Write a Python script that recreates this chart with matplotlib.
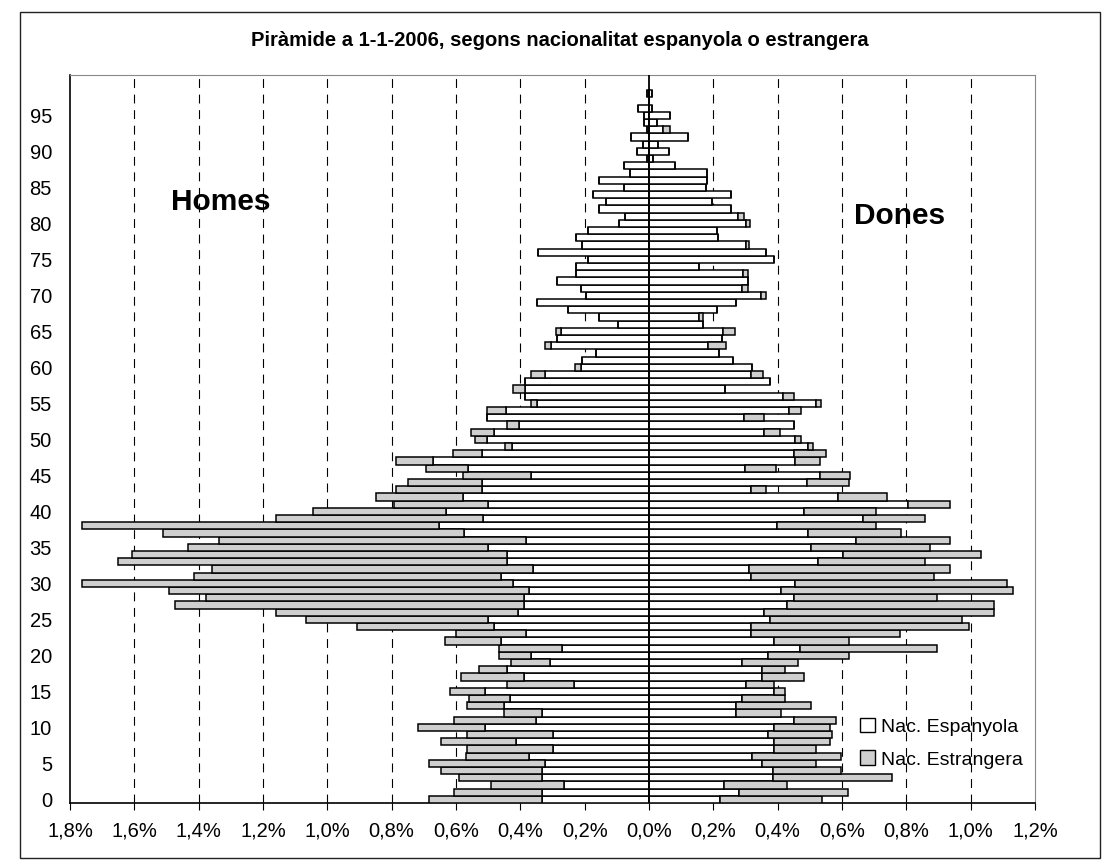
import matplotlib
matplotlib.use("Agg")
import matplotlib.pyplot as plt
from matplotlib.patches import Rectangle, Patch
import numpy as np

plt.rcParams['font.family'] = ['Liberation Sans', 'DejaVu Sans']

title = "Piràmide a 1-1-2006, segons nacionalitat espanyola o estrangera"
ages = list(range(0, 99))
ytick_vals = list(range(0, 100, 5))
xtick_vals = [-1.8, -1.6, -1.4, -1.2, -1.0, -0.8, -0.6, -0.4, -0.2, 0.0,
              0.2, 0.4, 0.6, 0.8, 1.0, 1.2]
series_names = ["Nac. Espanyola", "Nac. Estrangera"]

# Men: total and Spanish nationality (% of total population)
men_total = [0.685, 0.606, 0.491, 0.59, 0.646, 0.685, 0.57, 0.566, 0.646, 0.566,
             0.719, 0.606, 0.451, 0.566, 0.56, 0.62, 0.442, 0.586, 0.527, 0.428,
             0.467, 0.467, 0.634, 0.6, 0.907, 1.065, 1.16, 1.475, 1.376, 1.491,
             1.762, 1.416, 1.358, 1.65, 1.606, 1.432, 1.337, 1.511, 1.762, 1.16,
             1.044, 0.792, 0.848, 0.788, 0.749, 0.578, 0.693, 0.786, 0.61, 0.447,
             0.54, 0.554, 0.442, 0.504, 0.504, 0.366, 0.387, 0.424, 0.385, 0.366,
             0.229, 0.208, 0.166, 0.322, 0.287, 0.289, 0.097, 0.154, 0.251, 0.347,
             0.195, 0.212, 0.287, 0.228, 0.228, 0.19, 0.344, 0.207, 0.228, 0.19,
             0.092, 0.074, 0.154, 0.135, 0.175, 0.078, 0.154, 0.06, 0.078, 0.005,
             0.036, 0.02, 0.055, 0.005, 0.016, 0.014, 0.035, 0.0, 0.005]
men_esp = [0.333, 0.333, 0.263, 0.333, 0.333, 0.323, 0.374, 0.297, 0.412, 0.297,
           0.511, 0.352, 0.333, 0.451, 0.432, 0.511, 0.234, 0.388, 0.442, 0.309,
           0.368, 0.269, 0.461, 0.382, 0.481, 0.501, 0.408, 0.388, 0.388, 0.372,
           0.422, 0.461, 0.362, 0.442, 0.442, 0.501, 0.382, 0.574, 0.653, 0.515,
           0.63, 0.499, 0.578, 0.519, 0.519, 0.366, 0.564, 0.673, 0.52, 0.426,
           0.504, 0.483, 0.405, 0.504, 0.445, 0.348, 0.387, 0.387, 0.385, 0.324,
           0.21, 0.208, 0.166, 0.304, 0.287, 0.275, 0.097, 0.154, 0.251, 0.347,
           0.195, 0.212, 0.287, 0.228, 0.228, 0.19, 0.344, 0.207, 0.228, 0.19,
           0.092, 0.074, 0.154, 0.135, 0.175, 0.078, 0.154, 0.06, 0.078, 0.005,
           0.036, 0.02, 0.055, 0.005, 0.016, 0.014, 0.035, 0.0, 0.005]

# Women: total and Spanish nationality
women_total = [0.539, 0.618, 0.43, 0.756, 0.598, 0.519, 0.598, 0.519, 0.562, 0.568,
               0.562, 0.582, 0.41, 0.503, 0.424, 0.424, 0.39, 0.483, 0.424, 0.463,
               0.622, 0.895, 0.622, 0.78, 0.994, 0.974, 1.073, 1.073, 0.895, 1.133,
               1.113, 0.885, 0.936, 0.859, 1.033, 0.873, 0.936, 0.783, 0.706, 0.859,
               0.706, 0.936, 0.741, 0.365, 0.623, 0.624, 0.396, 0.531, 0.55, 0.509,
               0.473, 0.407, 0.452, 0.359, 0.473, 0.535, 0.452, 0.237, 0.376, 0.353,
               0.32, 0.26, 0.218, 0.239, 0.226, 0.267, 0.169, 0.169, 0.21, 0.269,
               0.364, 0.308, 0.308, 0.308, 0.156, 0.388, 0.364, 0.31, 0.215, 0.21,
               0.313, 0.295, 0.254, 0.195, 0.255, 0.177, 0.18, 0.18, 0.082, 0.012,
               0.062, 0.028, 0.122, 0.065, 0.025, 0.065, 0.01, 0.0, 0.01]
women_esp = [0.222, 0.281, 0.232, 0.384, 0.384, 0.351, 0.321, 0.39, 0.39, 0.37,
             0.39, 0.451, 0.27, 0.27, 0.289, 0.39, 0.30, 0.35, 0.35, 0.29,
             0.37, 0.469, 0.39, 0.317, 0.317, 0.376, 0.356, 0.43, 0.45, 0.41,
             0.455, 0.317, 0.311, 0.525, 0.602, 0.504, 0.643, 0.493, 0.399, 0.665,
             0.482, 0.804, 0.588, 0.316, 0.49, 0.531, 0.297, 0.455, 0.452, 0.494,
             0.455, 0.356, 0.452, 0.296, 0.434, 0.52, 0.416, 0.237, 0.376, 0.317,
             0.32, 0.26, 0.218, 0.182, 0.226, 0.231, 0.169, 0.154, 0.21, 0.269,
             0.347, 0.29, 0.308, 0.292, 0.156, 0.388, 0.364, 0.30, 0.215, 0.21,
             0.30, 0.277, 0.254, 0.195, 0.255, 0.177, 0.18, 0.18, 0.082, 0.012,
             0.062, 0.028, 0.122, 0.045, 0.025, 0.065, 0.01, 0.0, 0.01]

W, H = 1112, 868
fig = plt.figure(figsize=(W / 100, H / 100), dpi=100)
fig.patch.set_facecolor('white')

# outer frame
fig.patches.append(Rectangle((20 / W, 1 - 858 / H), (1100 - 20) / W, (858 - 12) / H,
                             transform=fig.transFigure, fill=False,
                             edgecolor='#222222', linewidth=1.0))

ax = fig.add_axes([70 / W, 1 - 803 / H, (1035 - 70) / W, (803 - 75) / H])

grey = '#cfcfcf'
m_tot = np.array(men_total)
m_esp = np.array(men_esp)
w_tot = np.array(women_total)
w_esp = np.array(women_esp)

bar_kw = dict(height=1.0, edgecolor='black', linewidth=1.1, zorder=3)
ax.barh(ages, -m_esp, color='white', **bar_kw)
ax.barh(ages, -(m_tot - m_esp), left=-m_esp, color=grey, **bar_kw)
ax.barh(ages, w_esp, color='white', **bar_kw)
ax.barh(ages, w_tot - w_esp, left=w_esp, color=grey, **bar_kw)

ax.set_xlim(-1.8, 1.2)
ax.set_ylim(-0.5, 100.6)

# dashed gridlines
for v in xtick_vals:
    if v not in (-1.8, 0.0, 1.2):
        ax.axvline(v, color='black', linestyle=(0, (8, 6)), linewidth=0.8, zorder=1)
ax.axvline(0.0, color='black', linewidth=1.3, zorder=4)

ax.set_xticks(xtick_vals)
ax.set_xticklabels([("%.1f%%" % abs(v)).replace('.', ',') for v in xtick_vals],
                   fontsize=14.5)
ax.set_yticks(ytick_vals)
ax.set_yticklabels([str(v) for v in ytick_vals], fontsize=14.5)
ax.tick_params(axis='x', length=5, width=0.8, pad=8)
ax.tick_params(axis='y', length=0, pad=13)

for s in ['left', 'bottom']:
    ax.spines[s].set_color('black')
    ax.spines[s].set_linewidth(1.2)
for s in ['top', 'right']:
    ax.spines[s].set_color('#888888')
    ax.spines[s].set_linewidth(0.8)
    ax.spines[s].set_linestyle((0, (1, 1)))

ax.text(-1.33, 83, "Homes", fontsize=21.5, fontweight='bold', ha='center', va='center')
ax.text(0.78, 81, "Dones", fontsize=21.5, fontweight='bold', ha='center', va='center')

handles = [Patch(facecolor='white', edgecolor='black', linewidth=1.0),
           Patch(facecolor=grey, edgecolor='black', linewidth=1.0)]
leg = ax.legend(handles, series_names, loc='upper left',
                bbox_to_anchor=(846 / W, 1 - 704 / H), bbox_transform=fig.transFigure,
                frameon=False, fontsize=14, handlelength=0.8, handleheight=0.8,
                handletextpad=0.3, labelspacing=0.75, borderpad=0.2)

fig.text(560 / W, 1 - 40 / H, title, ha='center', va='center',
         fontsize=14.5, fontweight='bold')

fig.savefig('out.png', dpi=100)
